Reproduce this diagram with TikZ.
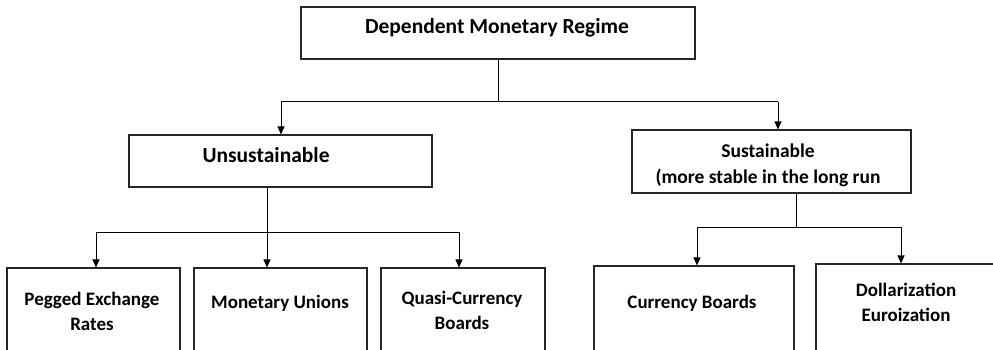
\documentclass[tikz,border=0pt]{standalone}
\usepackage{fontspec}
\setmainfont{Carlito}
\usepackage{tikz}
\usetikzlibrary{calc}
\usetikzlibrary{arrows.meta}
\usetikzlibrary{positioning}
\tikzset{regbox/.style={draw=black!85,line width=1.1pt,inner sep=0pt}}
\tikzset{regtxt/.style={align=center,inner sep=0pt,font=\fontsize{21.5}{26}\selectfont\bfseries}}
\tikzset{subtxt/.style={align=center,inner sep=0pt,font=\fontsize{19}{25}\selectfont\bfseries}}
\tikzset{arr/.style={line width=1pt,-{Triangle[length=8pt,width=7pt]}}}

\begin{document}
\begin{tikzpicture}[x=1pt,y=-1pt]
\useasboundingbox (0,0) rectangle (993,350);
\clip (0,0) rectangle (993,350);
% boxes
\node[regbox, minimum width=394, minimum height=52] (top) at (498,33) {};
\node[regbox, minimum width=303, minimum height=52] (unsus) at (280.5,161) {};
\node[regbox, minimum width=279, minimum height=63] (sust) at (771.5,161.5) {};
\node[regbox, minimum width=173, minimum height=102] (peg) at (93.5,319) {};
\node[regbox, minimum width=173, minimum height=102] (mon) at (280.5,319) {};
\node[regbox, minimum width=164, minimum height=102] (quasi) at (463,319) {};
\node[regbox, minimum width=200, minimum height=102] (cur) at (694,317) {};
\node[regbox, minimum width=194, minimum height=102] (dol) at (913,315) {};
% texts
\node[regtxt] (top-t) at (497,28) {Dependent Monetary Regime};
\node[regtxt] (unsus-t) at (266,155) {Unsustainable};
\node[subtxt, font=\fontsize{19.5}{26}\selectfont\bfseries] (sust-t) at (768,165) {Sustainable\\(more stable in the long run};
\node[subtxt] (peg-t) at (92,311) {Pegged Exchange\\Rates};
\node[subtxt] (mon-t) at (280,303) {Monetary Unions};
\node[subtxt] (quasi-t) at (462,310) {Quasi-Currency\\Boards};
\node[subtxt] (cur-t) at (692,303) {Currency Boards};
\node[subtxt] (dol-t) at (906,302) {Dollarization\\Euroization};
% first level
\coordinate (a1) at (281,102);
\coordinate (a2) at (778,102);
\draw[line width=1pt] (top.south) -- (top.south |- a1);
\draw[line width=1pt] (a1) -- (a2);
\draw[arr] (a1) -- (a1 |- unsus.north);
\draw[arr] (a2) -- (a2 |- sust.north);
% unsustainable branch
\coordinate (b1) at (96,232);
\coordinate (b2) at (267,232);
\coordinate (b3) at (459,232);
\draw[line width=1pt] (unsus.south -| b2) -- (b2);
\draw[line width=1pt] (b1) -- (b3);
\draw[arr] (b1) -- (b1 |- peg.north);
\draw[arr] (b2) -- (b2 |- mon.north);
\draw[arr] (b3) -- (b3 |- quasi.north);
% sustainable branch
\coordinate (c0) at (796,227);
\coordinate (c1) at (697,227);
\coordinate (c2) at (901,227);
\draw[line width=1pt] (sust.south -| c0) -- (c0);
\draw[line width=1pt] (c1) -- (c2);
\draw[arr] (c1) -- (c1 |- cur.north);
\draw[arr] (c2) -- (c2 |- dol.north);
\end{tikzpicture}
\end{document}
